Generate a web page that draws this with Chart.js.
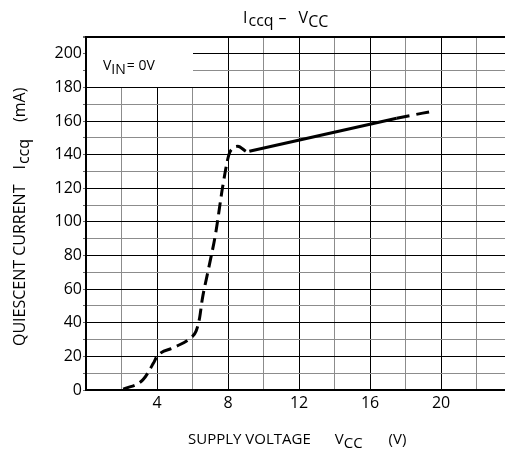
<!DOCTYPE html>
<html>
<head>
<meta charset="utf-8">
<script src="https://cdn.jsdelivr.net/npm/chart.js@4.4.0/dist/chart.umd.min.js"></script>
<style>
  html, body { margin: 0; padding: 0; background: #fff; }
  #wrap { width: 505px; height: 450px; }
</style>
</head>
<body>
<div id="wrap"><canvas id="iccqChart" width="505" height="450"></canvas></div>
<script>
    // axis ranges and tick labels
    const voltRange = [0, 23.6];
    const currentRange = [0, 210];
    const voltTickLabels = [4, 8, 12, 16, 20];
    const currentTickLabels = [0, 20, 40, 60, 80, 100, 120, 140, 160, 180, 200];

    // low-voltage part of the curve (dashed)
    const lowVolts = [2.1, 3.2, 3.8, 4.0, 5.0, 5.9, 6.2, 6.4, 6.55, 6.9, 7.3, 7.7, 8.05, 8.3, 8.55, 9.0];
    const lowCurrent = [0.5, 6, 16, 20, 25.5, 31, 35, 43, 54, 72, 93, 121, 140, 144, 145, 142];

    // guaranteed range (solid)
    const midVolts = [9.2, 17.5];
    const midCurrent = [142, 161.7];

    // high-voltage end (dashed)
    const highVolts = [17.5, 19.55];
    const highCurrent = [161.7, 165.9];

    const font = "'Open Sans', 'Noto Sans', sans-serif";

    function toPoints(xs, ys) {
        return xs.map((x, i) => ({ x: x, y: ys[i] }));
    }

    function lineSet(xs, ys, dash) {
        return {
            data: toPoints(xs, ys),
            borderColor: '#000',
            borderWidth: 3,
            borderDash: dash,
            pointRadius: 0,
            cubicInterpolationMode: 'monotone',
            fill: false
        };
    }

    // draws text pieces one after another, each with a baseline shift and a gap after it
    function drawRun(ctx, x, y, pieces, size) {
        ctx.font = size + 'px ' + font;
        pieces.forEach(p => {
            ctx.fillText(p.t, x, y + (p.dy || 0));
            x += ctx.measureText(p.t).width + (p.gap || 0);
        });
    }

    const labelsPlugin = {
        id: 'labels',
        beforeDatasetsDraw(chart) {
            // blank box in the upper left corner for the condition note
            const ctx = chart.ctx;
            const xs = chart.scales.x, ys = chart.scales.y;
            const left = Math.round(xs.getPixelForValue(0)) + 1;
            const right = Math.round(xs.getPixelForValue(6));
            const top = Math.round(ys.getPixelForValue(210)) + 1;
            const bottom = Math.round(ys.getPixelForValue(180));
            ctx.save();
            ctx.fillStyle = '#fff';
            ctx.fillRect(left, top, right - left, bottom - top);
            ctx.fillStyle = '#000';
            ctx.textBaseline = 'alphabetic';
            drawRun(ctx, 103, 70, [
                { t: 'V', gap: 0 },
                { t: 'IN', dy: 4, gap: 1 },
                { t: '= 0V' }
            ], 14);
            ctx.restore();
        },
        afterDraw(chart) {
            const ctx = chart.ctx;
            ctx.save();
            ctx.fillStyle = '#000';
            ctx.textBaseline = 'alphabetic';
            // title
            drawRun(ctx, 243, 23, [
                { t: 'I', gap: 1 },
                { t: 'ccq', dy: 3, gap: 5 },
                { t: '\u2013', gap: 12 },
                { t: 'V', gap: 0 },
                { t: 'CC', dy: 4 }
            ], 16);
            // x axis title
            drawRun(ctx, 188, 444, [
                { t: 'SUPPLY VOLTAGE', gap: 24 },
                { t: 'V', gap: 0 },
                { t: 'CC', dy: 4, gap: 26 },
                { t: '(V)' }
            ], 15);
            // y axis title, rotated
            ctx.translate(25, 0);
            ctx.rotate(-Math.PI / 2);
            drawRun(ctx, -346, 0, [
                { t: 'QUIESCENT CURRENT', gap: 15 },
                { t: 'I', gap: 1 },
                { t: 'ccq', dy: 4, gap: 17 },
                { t: '(mA)' }
            ], 16);
            ctx.restore();
        }
    };

    const config = {
        type: 'line',
        data: {
            datasets: [
                lineSet(lowVolts, lowCurrent, [12, 6]),
                lineSet(midVolts, midCurrent, []),
                lineSet(highVolts, highCurrent, [13, 7])
            ]
        },
        options: {
            responsive: false,
            animation: false,
            events: [],
            layout: { padding: { top: 37, left: 0, right: 0, bottom: 0 } },
            plugins: {
                legend: { display: false },
                tooltip: { enabled: false },
                title: { display: false }
            },
            scales: {
                x: {
                    type: 'linear',
                    min: voltRange[0],
                    max: voltRange[1],
                    afterFit: s => { s.height = 60; },
                    border: { color: '#000', width: 2 },
                    grid: {
                        drawTicks: false,
                        lineWidth: 1,
                        color: c => (c.tick && c.tick.value % 4 === 0) ? '#000' : '#8c8c8c'
                    },
                    ticks: {
                        stepSize: 2,
                        includeBounds: false,
                        autoSkip: false,
                        maxRotation: 0,
                        padding: 4,
                        color: '#000',
                        font: { family: font, size: 16 },
                        callback: v => voltTickLabels.includes(v) ? String(v) : ''
                    }
                },
                y: {
                    min: currentRange[0],
                    max: currentRange[1],
                    afterFit: s => { s.width = 86; },
                    border: { color: '#000', width: 2 },
                    grid: {
                        tickLength: 3,
                        tickColor: '#666',
                        lineWidth: c => (c.tick && c.tick.value === currentRange[1]) ? 2 : 1,
                        color: c => (c.tick && c.tick.value % 20 === 0) || (c.tick && c.tick.value === currentRange[1]) ? '#000' : '#8c8c8c'
                    },
                    ticks: {
                        stepSize: 10,
                        autoSkip: false,
                        padding: 1,
                        color: '#000',
                        font: { family: font, size: 16 },
                        callback: v => currentTickLabels.includes(v) ? String(v) : ''
                    }
                }
            }
        },
        plugins: [labelsPlugin]
    };

    const ctx = document.getElementById('iccqChart').getContext('2d');
    new Chart(ctx, config);
</script>
</body>
</html>
